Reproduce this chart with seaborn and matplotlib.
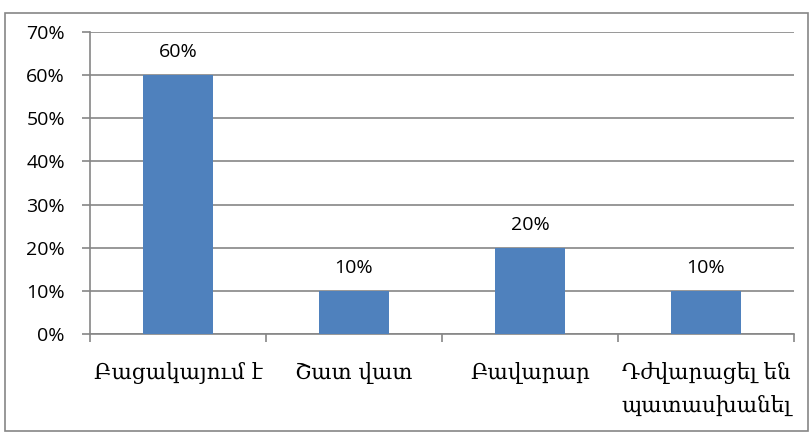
import matplotlib
matplotlib.use("Agg")
import matplotlib.pyplot as plt
from matplotlib.patches import Rectangle
from matplotlib.ticker import FixedLocator, PercentFormatter
import seaborn as sns
import pandas as pd

categories = ["Բացակայում է", "Շատ վատ", "Բավարար", "Դժվարացել են\nպատասխանել"]
shares = [0.60, 0.10, 0.20, 0.10]
value_labels = ["60%", "10%", "20%", "10%"]
y_ticks = [0, 0.1, 0.2, 0.3, 0.4, 0.5, 0.6, 0.7]

sns.set_theme(style="white")
plt.rcParams["font.family"] = ["Open Sans", "DejaVu Sans"]

grid_color = "#868686"
bar_color = "#4F81BD"

fig = plt.figure(figsize=(8.11, 4.33), dpi=100)
ax = fig.add_axes([90 / 811, 1 - 334 / 433, (794 - 90) / 811, (334 - 32) / 433])

df = pd.DataFrame({"category": categories, "share": shares})
sns.barplot(data=df, x="category", y="share", color=bar_color, width=0.4,
            saturation=1, linewidth=0, ax=ax, zorder=3)

ax.set_xlim(-0.5, len(categories) - 0.5)
ax.set_ylim(0, 0.7)
ax.set_yticks(y_ticks)
ax.yaxis.set_major_formatter(PercentFormatter(1.0, decimals=0))
ax.grid(axis="y", color=grid_color, linewidth=1.2, zorder=0)
ax.set_xlabel("")
ax.set_ylabel("")

for side in ["top", "right"]:
    ax.spines[side].set_visible(False)
for side in ["left", "bottom"]:
    ax.spines[side].set_color(grid_color)
    ax.spines[side].set_linewidth(1.2)

ax.tick_params(axis="y", which="major", left=True, length=6, width=1.2,
               color=grid_color, labelsize=14, labelcolor="black", pad=12)
ax.tick_params(axis="x", which="major", bottom=False, length=0, pad=20)
ax.xaxis.set_minor_locator(FixedLocator([i - 0.5 for i in range(len(categories) + 1)]))
ax.tick_params(axis="x", which="minor", bottom=True, length=6, width=1.2, color=grid_color)

for lbl in ax.get_xticklabels():
    lbl.set_fontfamily(["DejaVu Serif", "DejaVu Sans"])
    lbl.set_fontsize(15.5)
    lbl.set_color("black")
    lbl.set_verticalalignment("top")
    lbl.set_linespacing(1.67)

for i, (v, txt) in enumerate(zip(shares, value_labels)):
    ax.annotate(txt, (i, v), xytext=(0, 10), textcoords="offset points",
                ha="center", va="bottom", fontsize=14, color="black")

fig.patches.append(Rectangle((5 / 811, 1 - 431 / 433), 803 / 811, 418 / 433,
                             transform=fig.transFigure, fill=False,
                             edgecolor=grid_color, linewidth=1.2))

fig.savefig("out.png", dpi=100)
